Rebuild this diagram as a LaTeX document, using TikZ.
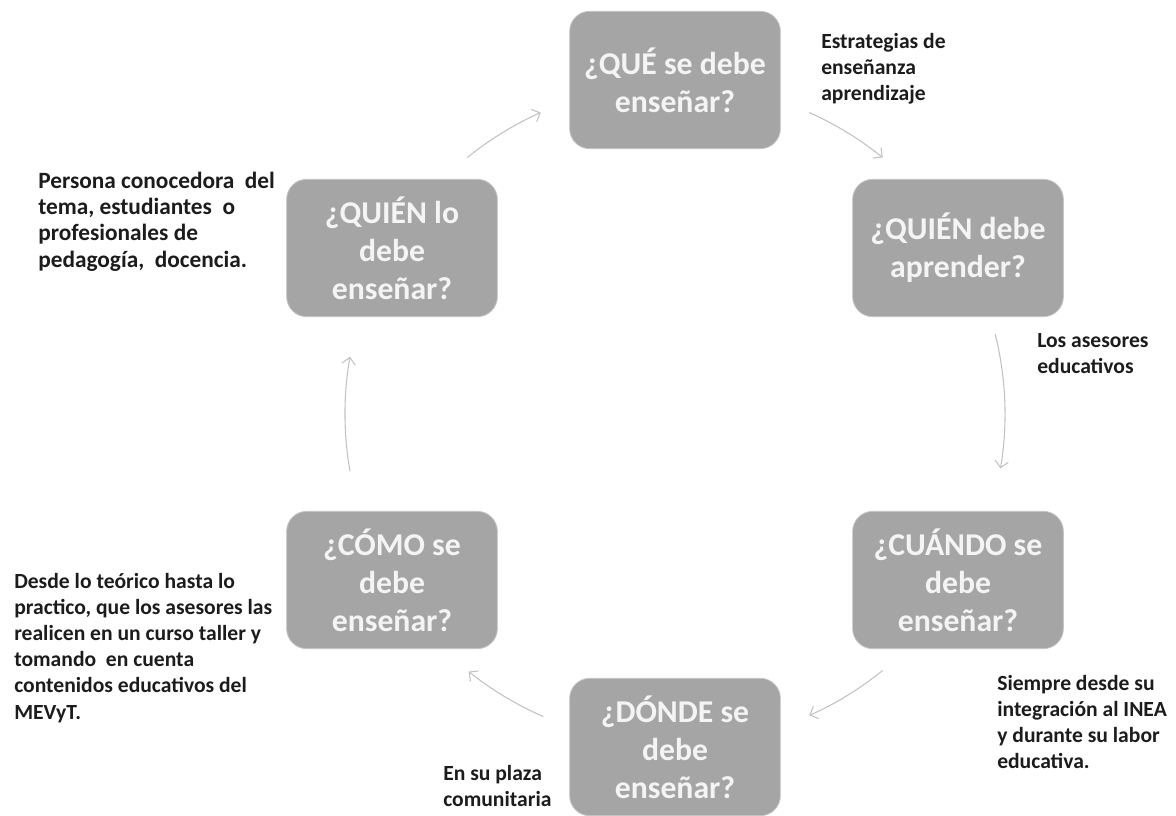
\documentclass[tikz,border=0pt]{standalone}
\usepackage{fontspec}
\setmainfont{Carlito}
\usetikzlibrary{arrows.meta}
\definecolor{boxgray}{HTML}{A5A5A5}
\definecolor{boxedge}{HTML}{C4C4C4}
\definecolor{boxtext}{HTML}{F4F4F4}
\definecolor{arrowgray}{HTML}{C2C2C2}
\definecolor{notetext}{HTML}{1C1C1C}
\newcommand{\bl}{\\[2.2pt]}
\begin{document}
\begin{tikzpicture}[x=0.75pt,y=0.75pt,
  qbox/.style={fill=boxgray, draw=boxedge, line width=0.6pt, rounded corners=15pt,
    minimum width=158pt, minimum height=103pt, inner sep=0pt, align=center,
    text=boxtext, font=\bfseries\fontsize{23.8}{26.4}\selectfont},
  note/.style={anchor=north west, inner sep=0pt, align=left, text=notetext,
    font=\bfseries\fontsize{16.2}{19.6}\selectfont},
  cyc/.style={draw=arrowgray, line width=0.8pt, -{Straight Barb[length=5pt,width=10pt]}}]
\useasboundingbox (0,0) rectangle (1176,815);
\fill[white] (0,0) rectangle (1176,815);
\begin{scope}
\clip (0,0) rectangle (1176,815);
% boxes
\node[qbox] (que)    at (675,735) {¿QUÉ se debe\bl enseñar?};
\node[qbox] (quienA) at (958,567) {¿QUIÉN debe\bl aprender?};
\node[qbox] (cuando) at (958,235) {¿CUÁNDO se\bl debe\bl enseñar?};
\node[qbox] (donde)  at (675,68)  {¿DÓNDE se\bl debe\bl enseñar?};
\node[qbox] (como)   at (392,235) {¿CÓMO se\bl debe\bl enseñar?};
\node[qbox] (quienB) at (392,567) {¿QUIÉN lo\bl debe\bl enseñar?};
\end{scope}
% cycle arrows (arcs of one circle)
\coordinate (O) at (675,401);
\coordinate (a1) at ([shift={(129:330)}]O);
\coordinate (a2) at ([shift={(66:330)}]O);
\coordinate (a3) at ([shift={(14:330)}]O);
\coordinate (a4) at ([shift={(-51:330)}]O);
\coordinate (a5) at ([shift={(-113.5:330)}]O);
\coordinate (a6) at ([shift={(190:330)}]O);
\draw[cyc] (a1) arc[start angle=129, end angle=114, radius=330];
\draw[cyc] (a2) arc[start angle=66, end angle=51, radius=330];
\draw[cyc] (a3) arc[start angle=14, end angle=-9.5, radius=330];
\draw[cyc] (a4) arc[start angle=-51, end angle=-66, radius=330];
\draw[cyc] (a5) arc[start angle=-113.5, end angle=-128.7, radius=330];
\draw[cyc] (a6) arc[start angle=190, end angle=170, radius=330];
% notes
\node[note] (n1) at (821,782) {Estrategias de\\enseñanza\\aprendizaje};
\node[note] (n2) at (1037,482) {Los asesores\\educativos};
\node[note] (n3) at (997,140) {Siempre desde su\\integración al INEA\\y durante su labor\\educativa.};
\node[note] (n4) at (443,50) {En su plaza\\comunitaria};
\node[note] (n5) at (14,242) {Desde lo teórico hasta lo\\practico, que los asesores las\\realicen en un curso taller y\\tomando~ en cuenta\\contenidos educativos del\\MEVyT.};
\node[note, font=\bfseries\fontsize{17.5}{19.6}\selectfont] (n6) at (38,643) {Persona conocedora~ del\\tema, estudiantes~ o\\profesionales de\\pedagogía,~ docencia.};
\end{tikzpicture}
\end{document}
